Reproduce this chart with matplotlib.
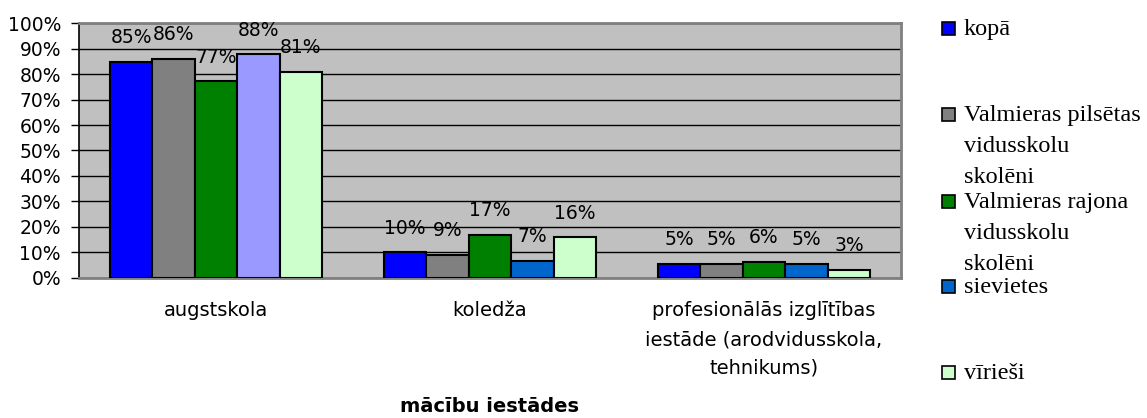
"""Bar chart: planned education institutions (mācību iestādes) by group."""

import matplotlib
matplotlib.use("Agg")
import matplotlib.pyplot as plt
import numpy as np
from matplotlib.patches import Rectangle
from matplotlib.ticker import MultipleLocator, PercentFormatter

categories = [
    "augstskola",
    "koledža",
    "profesionālās izglītības\niestāde (arodvidusskola,\ntehnikums)",
]
series_names = [
    "kopā",
    "Valmieras pilsētas\nvidusskolu\nskolēni",
    "Valmieras rajona\nvidusskolu\nskolēni",
    "sievietes",
    "vīrieši",
]
# bar heights (share), per series, across the three categories
kopa = [0.847, 0.100, 0.053]
pilsetas = [0.861, 0.089, 0.053]
rajona = [0.772, 0.168, 0.062]
sievietes = [0.878, 0.067, 0.053]
virieshi = [0.809, 0.159, 0.030]
values = [kopa, pilsetas, rajona, sievietes, virieshi]
labels = [
    ["85%", "10%", "5%"],
    ["86%", "9%", "5%"],
    ["77%", "17%", "6%"],
    ["88%", "7%", "5%"],
    ["81%", "16%", "3%"],
]
series_colors = ["#0000FF", "#808080", "#008000", "#0066CC", "#CCFFCC"]
# the first "sievietes" bar is drawn in a different colour in the original
point_colors = [
    ["#0000FF"] * 3,
    ["#808080"] * 3,
    ["#008000"] * 3,
    ["#9999FF", "#0066CC", "#0066CC"],
    ["#CCFFCC"] * 3,
]

SANS = "DejaVu Sans"
SERIF = "Liberation Serif"

fig = plt.figure(figsize=(11.47, 4.18), dpi=100)
ax = fig.add_axes([79 / 1147, 1 - 277.7 / 418, 822 / 1147, 254.4 / 418])
ax.set_facecolor("#C0C0C0")

x = np.arange(len(categories))
width = 0.155
for i, (vals, cols, labs) in enumerate(zip(values, point_colors, labels)):
    xs = x + (i - 2) * width
    ax.bar(xs, vals, width=width, color=cols, edgecolor="black",
           linewidth=1.5, zorder=3)
    for xi, v, lab in zip(xs, vals, labs):
        ax.annotate(lab, (xi, v), xytext=(0, 13.5), textcoords="offset points",
                    ha="center", va="baseline", fontsize=13.5, family=SANS,
                    zorder=4)

ax.set_xlim(-0.5, 2.5)
ax.set_ylim(0, 1.0)
ax.yaxis.set_major_locator(MultipleLocator(0.1))
ax.yaxis.set_major_formatter(PercentFormatter(1.0, decimals=0))
ax.grid(axis="y", color="black", linewidth=1.0, zorder=1)
ax.set_axisbelow(True)

ax.set_xticks(x)
ax.set_xticklabels(categories, fontsize=14, family=SANS, linespacing=1.65,
                   va="top")
ax.tick_params(axis="x", length=0, pad=17)
ax.tick_params(axis="y", direction="out", length=6, width=1, color="black",
               labelsize=13.5, pad=7)
for t in ax.get_yticklabels():
    t.set_family(SANS)

for side in ("top", "right", "bottom"):
    ax.spines[side].set_color("#808080")
    ax.spines[side].set_linewidth(2)
ax.spines["left"].set_color("black")
ax.spines["left"].set_linewidth(1.2)

fig.text(490 / 1147, 1 - 407 / 418, "mācību iestādes", ha="center",
         va="center", fontsize=14, fontweight="bold", family=SANS)

# legend drawn by hand to keep the original spacing
legend_y = [28, 114, 201, 286, 372]
for name, col, y in zip(series_names, series_colors, legend_y):
    fig.add_artist(Rectangle((942 / 1147, 1 - (y + 6.5) / 418), 13 / 1147,
                             13 / 418, transform=fig.transFigure,
                             facecolor=col, edgecolor="black", linewidth=1.2))
    fig.text(964 / 1147, 1 - (y - 9) / 418, name, ha="left", va="top",
             fontsize=17.5, family=SERIF, linespacing=1.63)

fig.savefig("out.png", dpi=100)
